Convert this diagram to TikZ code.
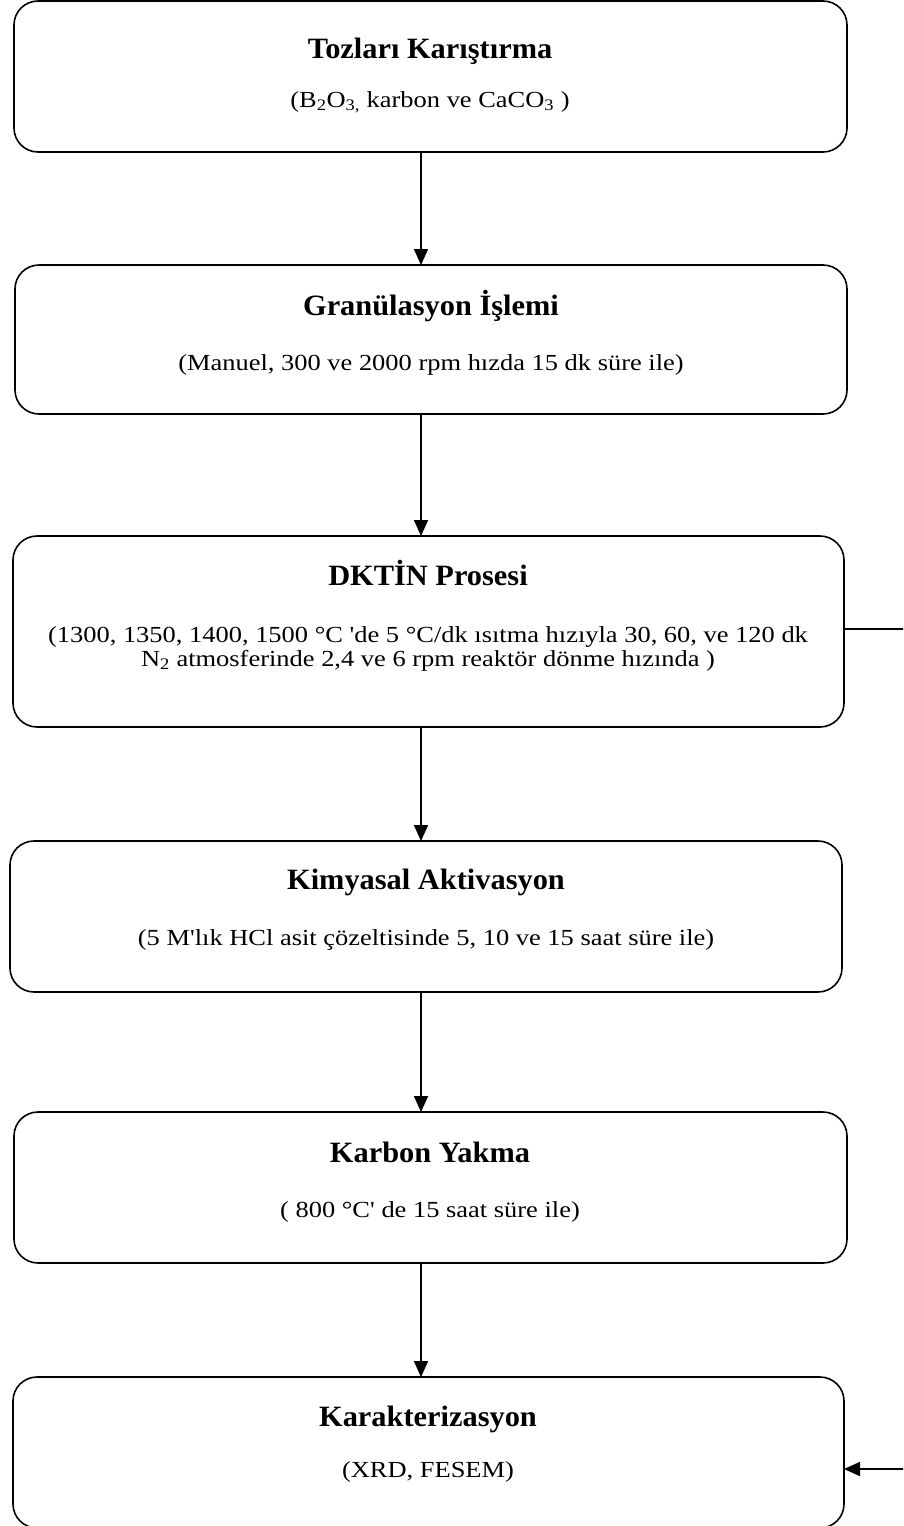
\documentclass[tikz,border=0pt]{standalone}
\usepackage{fontspec}
\setmainfont{Liberation Serif}[FakeStretch=1.15,Ligatures=TeXOff]
\newfontfamily\ttlfont{Liberation Serif}[FakeStretch=1.03,Ligatures=TeXOff]
\usetikzlibrary{arrows.meta}
\tikzset{
  box/.style={draw, line width=1.6pt, rounded corners=24pt, inner sep=0pt, outer sep=0pt},
  ttl/.style={anchor=base, inner sep=0pt, font=\ttlfont\fontsize{29.5}{31}\selectfont\bfseries},
  sub/.style={anchor=base, inner sep=0pt, font=\fontsize{23}{25}\selectfont},
  arr/.style={line width=1.6pt, -{Triangle[length=16pt,width=14pt]}}
}
\begin{document}
\begin{tikzpicture}[x=1pt,y=-1pt]
\useasboundingbox (0,0) rectangle (903,1526);
\clip (0,0) rectangle (903,1526);
% boxes
\node[box, minimum width=833pt, minimum height=151pt] (b1) at (430.5,76.5) {};
\node[box, minimum width=832pt, minimum height=149pt] (b2) at (431,339.5) {};
\node[box, minimum width=831pt, minimum height=191pt] (b3) at (428.5,631.5) {};
\node[box, minimum width=832pt, minimum height=151pt] (b4) at (426,916.5) {};
\node[box, minimum width=833pt, minimum height=151pt] (b5) at (430.5,1187.5) {};
\node[box, minimum width=831pt, minimum height=151pt] (b6) at (428.5,1452.5) {};
% texts
\node[ttl] (t1) at (430,58) {Tozları Karıştırma};
\node[sub] (s1) at (430,107) {(B\textsubscript{2}O\textsubscript{3,} karbon ve CaCO\textsubscript{3} )};
\node[ttl] (t2) at (431,315) {Granülasyon İşlemi};
\node[sub] (s2) at (431,370) {(Manuel, 300 ve 2000 rpm hızda 15 dk süre ile)};
\node[ttl] (t3) at (428,585) {DKTİN Prosesi};
\node[sub] (s3a) at (428,642) {(1300, 1350, 1400, 1500 °C 'de 5 °C/dk ısıtma hızıyla 30, 60, ve 120 dk};
\node[sub] (s3b) at (428,666) {N\textsubscript{2} atmosferinde 2,4 ve 6 rpm reaktör dönme hızında )};
\node[ttl] (t4) at (426,889) {Kimyasal Aktivasyon};
\node[sub] (s4) at (426,945) {(5 M'lık HCl asit çözeltisinde 5, 10 ve 15 saat süre ile)};
\node[ttl] (t5) at (430,1162) {Karbon Yakma};
\node[sub] (s5) at (430,1217) {( 800 °C' de 15 saat süre ile)};
\node[ttl] (t6) at (428,1426) {Karakterizasyon};
\node[sub] (s6) at (428,1477) {(XRD, FESEM)};
% connectors
\coordinate (ax) at (421,0);
\draw[arr] (b1.south -| ax) -- (b2.north -| ax);
\draw[arr] (b2.south -| ax) -- (b3.north -| ax);
\draw[arr] (b3.south -| ax) -- (b4.north -| ax);
\draw[arr] (b4.south -| ax) -- (b5.north -| ax);
\draw[arr] (b5.south -| ax) -- (b6.north -| ax);
\coordinate (c1) at (915,629);
\coordinate (c2) at (915,1469);
\draw[arr] (b3.east |- c1) -- (c1) -- (c2) -- (b6.east |- c2);
\end{tikzpicture}
\end{document}
